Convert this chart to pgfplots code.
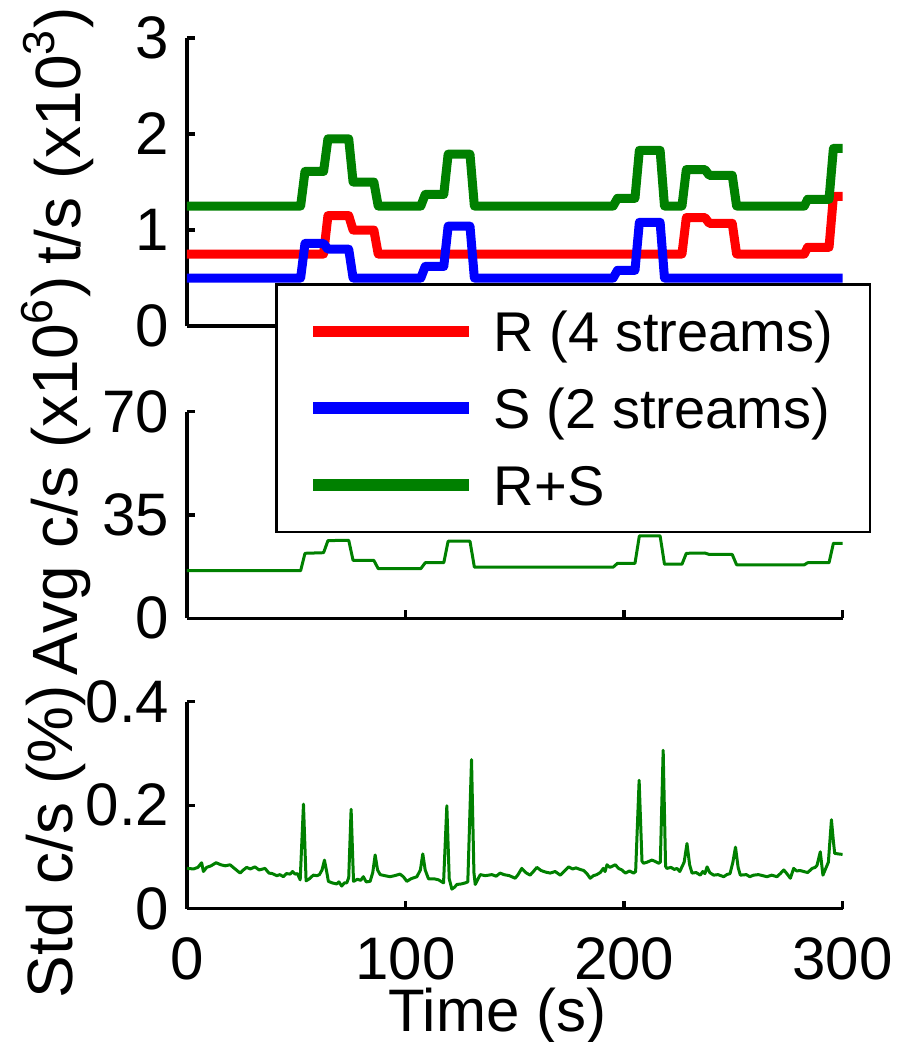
\documentclass[border=0pt]{standalone}
\usepackage{fontspec}
\setmainfont{Liberation Sans}
\usepackage{pgfplots}
\pgfplotsset{compat=1.18}
\definecolor{mgreen}{rgb}{0,0.5,0}
\pgfplotsset{
  common/.style={
    scale only axis, width=163.9pt, xmin=0, xmax=300,
    axis lines*=left, tick align=inside,
    axis line style={line width=0.8pt},
    every tick/.style={line width=0.8pt, black},
    major tick length=2pt,
    xtick={0,100,200,300},
    /pgf/number format/assume math mode=true,
    tick label style={font=\fontsize{15}{15}\selectfont},
    yticklabel style={anchor=east, inner sep=0pt, xshift=-4.25pt},
    xticklabel style={anchor=north, inner sep=0pt, text depth=0pt, yshift=-7.1pt},
    ylabel style={font=\fontsize{16}{16}\selectfont, anchor=base},
    anchor=north west,
  }
}
\begin{document}
\begin{tikzpicture}
\useasboundingbox (0pt,0pt) rectangle (225pt,-260.5pt);
% middle axis
\begin{axis}[common, at={(46.75pt,-102.9pt)}, height=51.65pt,
  ymin=0, ymax=70, ytick={0,35,70}, xticklabels={},
  ylabel={Avg c/s (x10\textsuperscript{6})},
  ylabel style={at={(axis description cs:-0.1663,0.691)}}]
\addplot[mgreen, line width=0.75pt, line join=round] coordinates {
(0,16.1) (52,16.1) (54,22.0) (62.5,22.2) (64.5,26.3) (74,26.4) (76,19.6) (85.5,19.6) (87.5,16.8)
(107,16.8) (109,18.8) (117.5,18.8) (119.5,26.1) (129.5,26.1) (131.5,17.3) (195,17.3) (197,18.6)
(205,18.6) (207,27.9) (216.5,27.9) (218.5,18.3) (226.5,18.3) (228.5,22.0) (237,22.1) (239,21.6)
(249.5,21.6) (251.5,18.1) (282.5,18.1) (284,18.8) (293.8,18.8) (295.8,25.4) (300,25.4)};
\end{axis}
% bottom axis
\begin{axis}[common, at={(46.75pt,-175.4pt)}, height=51.8pt,
  ymin=0, ymax=0.4, ytick={0,0.2,0.4}, yticklabels={0,0.2,0.4},
  ylabel={Std c/s (\%)},
  ylabel style={at={(axis description cs:-0.1754,0.323)}},
  xlabel={Time (s)},
  xlabel style={at={(axis description cs:0.4735,-0.59)}, anchor=base, inner sep=0pt, font=\fontsize{15}{15}\selectfont}]
\addplot[mgreen, line width=0.75pt, line join=round] coordinates {
(0,0.078) (3,0.077) (5,0.080) (6.7,0.089) (7.5,0.072) (9,0.080) (11,0.083) (13.3,0.089) (15.5,0.085)
(17.5,0.083) (19.7,0.085) (22,0.077) (24.3,0.069) (25.5,0.074) (27.3,0.080) (29,0.077) (31.1,0.081)
(33,0.075) (35.7,0.078) (37.5,0.069) (39,0.068) (41.1,0.064) (42.5,0.066) (44.1,0.062) (45.5,0.068)
(47.2,0.067) (48.3,0.072) (49.5,0.067) (50.5,0.068) (51.8,0.056) (53.3,0.202) (54.5,0.054) (56,0.058)
(57.8,0.065) (59.5,0.064) (60.6,0.066) (61.8,0.075) (62.9,0.094) (64,0.070) (64.7,0.053) (66.5,0.050)
(68.5,0.048) (69.5,0.052) (70.8,0.044) (72,0.050) (73.1,0.050) (74,0.060) (75.1,0.192) (76.2,0.053)
(78,0.057) (79.5,0.055) (80.7,0.062) (82,0.052) (83.8,0.053) (85,0.070) (86.1,0.104) (87.2,0.075)
(88.4,0.066) (90.5,0.064) (92.9,0.062) (95,0.064) (97.5,0.067) (99,0.062) (100.6,0.053) (102.5,0.058)
(105.2,0.062) (106.8,0.075) (107.9,0.106) (109,0.075) (110.5,0.058) (113,0.058) (115.1,0.056) (117.4,0.050)
(118.9,0.199) (120,0.058) (121.2,0.038) (122.5,0.042) (123.5,0.047) (125.5,0.048) (127.3,0.050) (128.5,0.052)
(130.2,0.288) (131.3,0.070) (131.9,0.047) (134.2,0.066) (136.5,0.064) (139.5,0.066) (141.5,0.063) (143.3,0.069)
(145,0.066) (147.5,0.064) (150.2,0.059) (151.5,0.066) (153.2,0.078) (155,0.070) (157,0.065) (158.5,0.072)
(160.1,0.080) (162,0.074) (164,0.071) (166.2,0.069) (168.5,0.072) (170.8,0.065) (172.5,0.072) (174.6,0.081)
(176.5,0.077) (178,0.079) (179.9,0.076) (181.5,0.074) (183,0.068) (184.5,0.059) (186,0.064) (187.5,0.066)
(189.1,0.070) (190.5,0.078) (191.3,0.072) (192.2,0.085) (193.5,0.080) (195,0.083) (196,0.085) (197.5,0.078)
(199,0.075) (200.6,0.069) (202.5,0.073) (204.4,0.069) (205.3,0.072) (206.9,0.248) (208.2,0.092) (208.9,0.088)
(210.5,0.090) (212.7,0.094) (214,0.092) (215.8,0.088) (216.6,0.090) (217.9,0.306) (219,0.082) (219.6,0.078)
(221.5,0.080) (223,0.076) (224.2,0.078) (225.5,0.072) (227.5,0.090) (228.8,0.126) (230,0.085) (231.1,0.069)
(233,0.070) (234.9,0.065) (236,0.072) (237,0.068) (238,0.081) (239.2,0.070) (241,0.065) (243,0.066)
(245.6,0.062) (247,0.066) (248.5,0.068) (249.8,0.090) (251,0.119) (252.2,0.080) (253.2,0.065) (256,0.066)
(257.5,0.062) (259.3,0.065) (261.5,0.066) (263.5,0.064) (265.4,0.062) (267.5,0.065) (270,0.062) (271.5,0.068)
(273.1,0.075) (274.5,0.068) (276.1,0.059) (277.6,0.078) (279,0.073) (280.5,0.074) (282.2,0.072) (284,0.070)
(286.1,0.078) (287.5,0.080) (288.3,0.084) (289.8,0.110) (291,0.065) (292.6,0.081) (293.5,0.090) (294.9,0.172)
(295.8,0.130) (296.4,0.107) (298,0.106) (300,0.105)};
\end{axis}
% top axis
\begin{axis}[common, at={(46.75pt,-9.5pt)}, height=72pt,
  ymin=0, ymax=3, ytick={0,1,2,3}, xticklabels={},
  ylabel={t/s (x10\textsuperscript{3})},
  ylabel style={at={(axis description cs:-0.1632,0.66)}},
  legend image code/.code={\draw[#1, line width=2.9pt] (0pt,0pt) -- (39pt,0pt);},
  legend style={at={(axis description cs:0.1342,0.148)}, anchor=north west,
    draw=black, line width=0.65pt, fill=white,
    inner xsep=7.75pt, inner ysep=4.7pt, row sep=5.2pt, column sep=2.75pt,
    font=\fontsize{14}{14}\selectfont,
    nodes={inner sep=2pt, text height=10pt, text depth=0pt},
    cells={anchor=west}}]
\addplot[red, line width=2.25pt, line join=round] coordinates {
(0,0.75) (62.5,0.75) (64.5,1.15) (74,1.15) (76,1.0) (85.5,1.0) (87.5,0.75) (226.5,0.75) (228.5,1.13)
(237,1.13) (239,1.07) (249.5,1.07) (251.5,0.75) (282.5,0.75) (284,0.82) (293.8,0.82) (295.8,1.35) (300,1.35)};
\addlegendentry{\makebox[84.25pt][l]{R (4 streams)}}
\addplot[blue, line width=2.25pt, line join=round] coordinates {
(0,0.5) (52,0.5) (54,0.86) (62.5,0.86) (64.5,0.80) (74,0.80) (76,0.5) (107,0.5) (109,0.62) (117.5,0.62)
(119.5,1.04) (129.5,1.04) (131.5,0.5) (195,0.5) (197,0.58) (205,0.58) (207,1.08) (216.5,1.08) (218.5,0.5) (300,0.5)};
\addlegendentry{\makebox[84.25pt][l]{S (2 streams)}}
\addplot[mgreen, line width=2.25pt, line join=round] coordinates {
(0,1.25) (52,1.25) (54,1.61) (62.5,1.61) (64.5,1.95) (74,1.95) (76,1.5) (85.5,1.5) (87.5,1.25) (107,1.25)
(109,1.37) (117.5,1.37) (119.5,1.79) (129.5,1.79) (131.5,1.25) (195,1.25) (197,1.33) (205,1.33) (207,1.83)
(216.5,1.83) (218.5,1.25) (226.5,1.25) (228.5,1.63) (237,1.63) (239,1.57) (249.5,1.57) (251.5,1.25)
(282.5,1.25) (284,1.32) (293.8,1.32) (295.8,1.85) (300,1.85)};
\addlegendentry{\makebox[84.25pt][l]{R+S}}
\end{axis}
\end{tikzpicture}
\end{document}
